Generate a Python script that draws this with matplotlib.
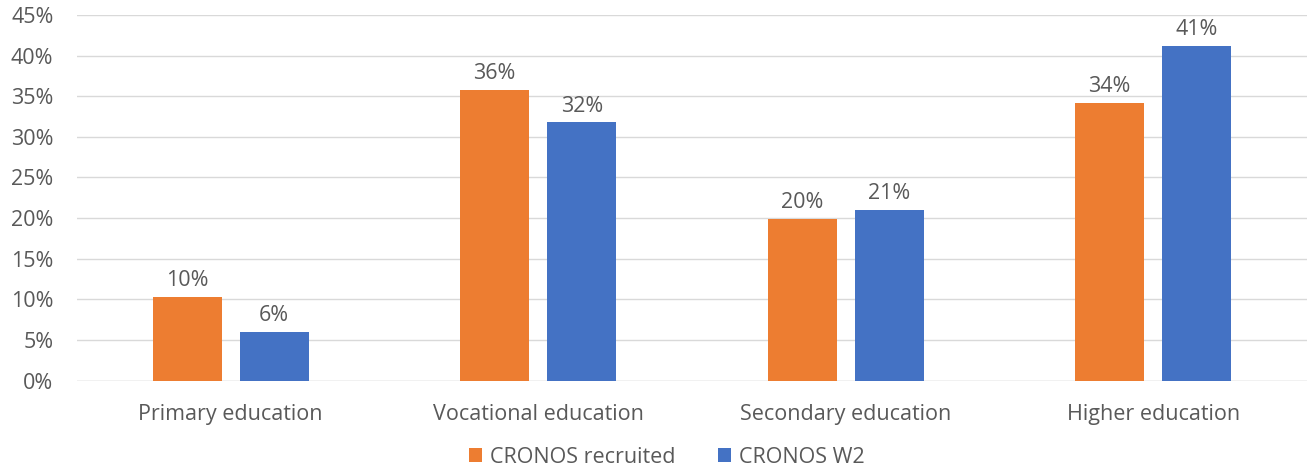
import numpy as np
import matplotlib.pyplot as plt

plt.rcParams["font.family"] = ["Open Sans", "DejaVu Sans"]

categories = ["Primary education", "Vocational education", "Secondary education", "Higher education"]
recruited = [10.3, 35.8, 19.9, 34.2]
w2 = [6.0, 31.8, 21.0, 41.2]
recruited_labels = ["10%", "36%", "20%", "34%"]
w2_labels = ["6%", "32%", "21%", "41%"]

ORANGE = "#ED7D31"
BLUE = "#4472C4"
TXT = "#595959"
FS = 15.5

fig = plt.figure(figsize=(13.07, 4.69), dpi=100)
ax = fig.add_axes([77 / 1307, 88.5 / 469, 1230 / 1307, (380.5 - 15) / 469])

x = np.arange(len(categories))
off = 0.1415
bw = 0.224
b1 = ax.bar(x - off, recruited, bw, color=ORANGE, label="CRONOS recruited", zorder=3)
b2 = ax.bar(x + off, w2, bw, color=BLUE, label="CRONOS W2", zorder=3)

for bars, labs in ((b1, recruited_labels), (b2, w2_labels)):
    for b, lab in zip(bars, labs):
        ax.annotate(lab, (b.get_x() + b.get_width() / 2, b.get_height()),
                    xytext=(0, 4), textcoords="offset points",
                    ha="center", va="bottom", fontsize=FS, color=TXT)

ax.set_xlim(-0.5, 3.5)
ax.set_ylim(0, 45)
ax.set_yticks(np.arange(0, 46, 5))
ax.set_yticklabels([f"{v}%" for v in range(0, 46, 5)])
ax.set_xticks(x)
ax.set_xticklabels(categories)
ax.tick_params(axis="both", length=0, labelsize=FS, labelcolor=TXT)
ax.tick_params(axis="x", pad=17)
ax.tick_params(axis="y", pad=17)
ax.yaxis.grid(True, color="#D9D9D9", lw=1, zorder=0)
for s in ax.spines.values():
    s.set_visible(False)
ax.axhline(0, color="#D9D9D9", lw=1, zorder=1)

leg = fig.legend(loc="center", bbox_to_anchor=(667 / 1307, 1 - 457 / 469), ncol=2,
                 frameon=False, fontsize=FS, handlelength=0.6, handleheight=0.6,
                 columnspacing=2.0, handletextpad=0.35)
for t in leg.get_texts():
    t.set_color(TXT)

fig.savefig("out.png", dpi=100)
